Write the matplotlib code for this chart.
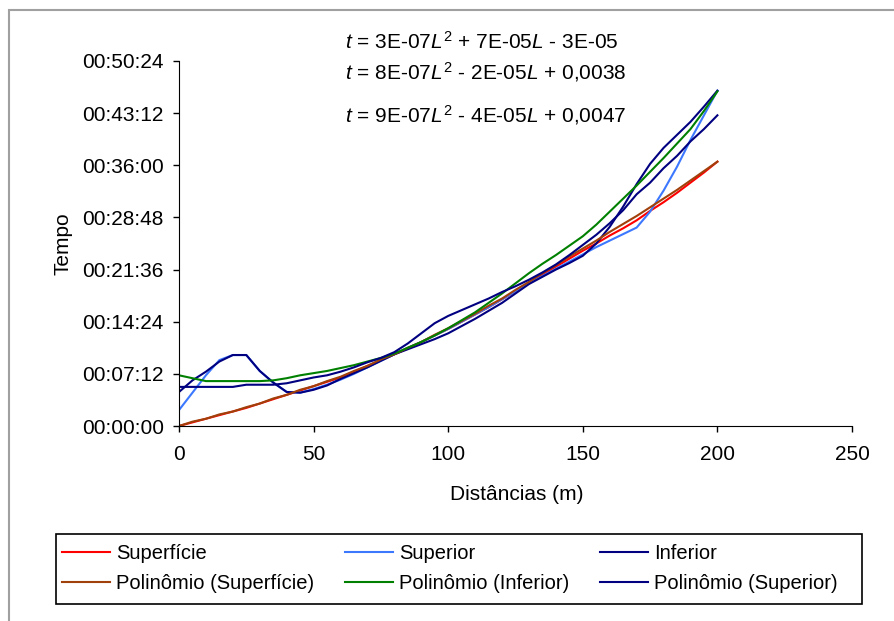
import numpy as np
import matplotlib
matplotlib.use("Agg")
import matplotlib.pyplot as plt
from matplotlib.ticker import FuncFormatter, MultipleLocator
from matplotlib.patches import Rectangle

plt.rcParams["font.family"] = ["Liberation Sans", "DejaVu Sans"]
plt.rcParams["mathtext.fontset"] = "custom"
plt.rcParams["mathtext.rm"] = "Liberation Sans"
plt.rcParams["mathtext.it"] = "Liberation Sans:italic"

# distancias (m) e tempos, em minutos
distancia = np.arange(0, 201, 5)

superficie = [0.0, 0.5, 1.0, 1.5, 2.0, 2.5, 3.1, 3.7, 4.3, 4.9, 5.5, 6.1, 6.7, 7.5, 8.3, 9.1, 9.9,
              10.7, 11.6, 12.5, 13.4, 14.4, 15.4, 16.4, 17.5, 18.6, 19.8, 20.9, 22.0, 23.1, 24.2,
              25.2, 26.3, 27.3, 28.4, 29.7, 30.9, 32.2, 33.6, 35.0, 36.5]
superior = [2.2, 4.6, 7.0, 9.1, 9.8, 9.8, 7.6, 6.0, 4.7, 4.6, 5.1, 5.7, 6.4, 7.2, 8.1, 9.0, 9.9,
            10.8, 11.6, 12.5, 13.4, 14.4, 15.4, 16.4, 17.5, 18.6, 19.7, 20.7, 21.7, 22.7, 23.7,
            24.7, 25.6, 26.5, 27.4, 29.6, 32.5, 35.8, 39.5, 42.9, 46.3]
inferior = [4.7, 6.3, 7.5, 8.9, 9.8, 9.8, 7.6, 6.0, 4.7, 4.6, 5.0, 5.6, 6.5, 7.3, 8.1, 9.0, 9.9,
            10.6, 11.3, 12.0, 12.8, 13.8, 14.8, 15.9, 17.0, 18.3, 19.6, 20.6, 21.6, 22.5, 23.5,
            25.2, 27.5, 30.3, 33.4, 36.2, 38.4, 40.2, 42.0, 44.1, 46.3]
pol_superficie = [0.0, 0.6, 1.0, 1.6, 2.0, 2.6, 3.1, 3.8, 4.3, 5.0, 5.5, 6.2, 6.8, 7.6, 8.3, 9.2,
                  9.9, 10.8, 11.6, 12.6, 13.5, 14.5, 15.5, 16.6, 17.6, 18.8, 19.9, 21.1, 22.2,
                  23.4, 24.5, 25.6, 26.8, 27.9, 29.0, 30.2, 31.4, 32.6, 33.9, 35.2, 36.5]
pol_inferior = [7.0, 6.6, 6.2, 6.2, 6.2, 6.2, 6.2, 6.3, 6.6, 7.0, 7.3, 7.6, 8.0, 8.4, 8.9, 9.4,
                10.0, 10.8, 11.6, 12.5, 13.5, 14.6, 15.7, 17.0, 18.3, 19.7, 21.1, 22.4, 23.6,
                24.9, 26.2, 27.8, 29.6, 31.4, 33.2, 35.1, 37.0, 39.0, 41.0, 43.5, 46.2]
pol_superior = [5.4, 5.4, 5.4, 5.4, 5.4, 5.7, 5.7, 5.7, 5.9, 6.3, 6.7, 7.0, 7.5, 8.1, 8.8, 9.4,
                10.2, 11.4, 12.8, 14.2, 15.2, 16.0, 16.8, 17.6, 18.5, 19.3, 20.2, 21.2, 22.3,
                23.6, 25.0, 26.4, 28.0, 29.8, 32.0, 33.6, 35.6, 37.3, 39.3, 41.0, 42.9]

equacoes = [r"$t$ = 3E-07$L^2$ + 7E-05$L$ - 3E-05",
            r"$t$ = 8E-07$L^2$ - 2E-05$L$ + 0,0038",
            r"$t$ = 9E-07$L^2$ - 4E-05$L$ + 0,0047"]


def hms(v, pos):
    s = int(round(v * 60))
    return "%02d:%02d:%02d" % (s // 3600, (s % 3600) // 60, s % 60)


fig = plt.figure(figsize=(8.95, 6.21), dpi=100)
ax = fig.add_axes([179 / 895, 195 / 621, 673 / 895, 365 / 621])

l1, = ax.plot(distancia, superficie, color="#FF0000", lw=1.5, label="Superfície")
l2, = ax.plot(distancia, superior, color="#3C78FF", lw=1.5, label="Superior")
l3, = ax.plot(distancia, inferior, color="#000080", lw=1.5, label="Inferior")
l4, = ax.plot(distancia, pol_superficie, color="#A0400A", lw=1.5, label="Polinômio (Superfície)")
l5, = ax.plot(distancia, pol_inferior, color="#008000", lw=1.5, label="Polinômio (Inferior)")
l6, = ax.plot(distancia, pol_superior, color="#000080", lw=1.5, label="Polinômio (Superior)")

ax.set_xlim(0, 250)
ax.set_ylim(0, 50.4)
ax.xaxis.set_major_locator(MultipleLocator(50))
ax.yaxis.set_major_locator(MultipleLocator(7.2))
ax.yaxis.set_major_formatter(FuncFormatter(hms))
ax.spines["top"].set_visible(False)
ax.spines["right"].set_visible(False)
ax.tick_params(direction="out", length=4, width=1, labelsize=15, pad=7)
ax.tick_params(axis="x", pad=10)

ax.set_xlabel("Distâncias (m)", fontsize=15)
ax.set_ylabel("Tempo", fontsize=15)
ax.xaxis.set_label_coords(0.502, -0.162)
ax.yaxis.set_label_coords(-0.158, 0.5)

for eq, yy in zip(equacoes, [1.052, 0.970, 0.852]):
    ax.text(0.247, yy, eq, transform=ax.transAxes, fontsize=15, ha="left", va="center")

handles = [l1, l4, l2, l5, l3, l6]
leg = fig.legend(handles, [h.get_label() for h in handles], ncol=3, frameon=False,
                 loc="upper left", bbox_to_anchor=(62 / 895, (621 - 544) / 621),
                 borderaxespad=0, borderpad=0, fontsize=14.5, handlelength=2.4,
                 handletextpad=0.3, labelspacing=0.55, columnspacing=1.5)

# caixa da legenda e moldura cinza do grafico
fig.patches.append(Rectangle((56 / 895, 17 / 621), 806 / 895, 70 / 621, transform=fig.transFigure,
                             fill=False, edgecolor="black", lw=1.2))
fig.patches.append(Rectangle((9 / 895, -0.1), 1.2, (611 / 621) + 0.1, transform=fig.transFigure,
                             fill=False, edgecolor="#A0A0A0", lw=1.5))

fig.savefig("out.png", dpi=100)
